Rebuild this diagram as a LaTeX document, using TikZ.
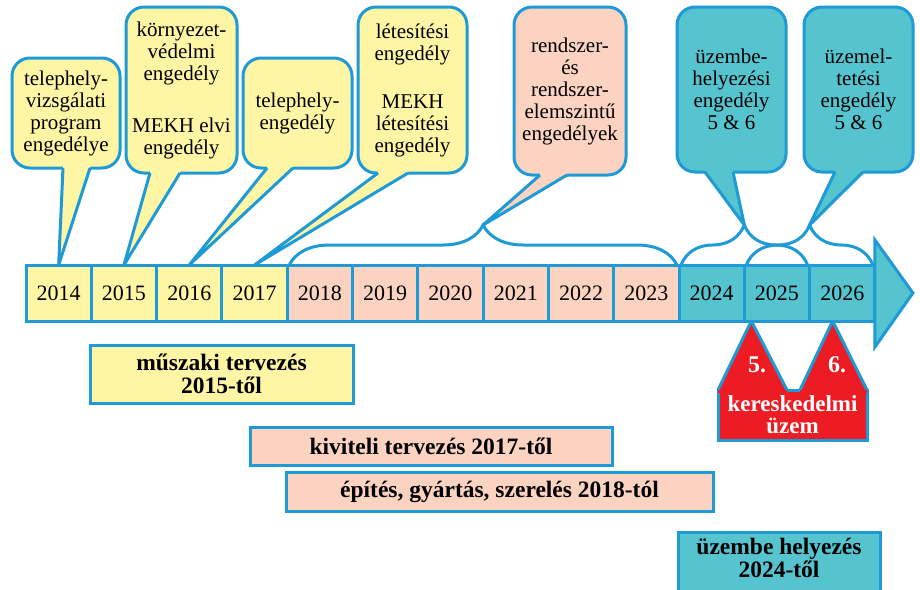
\documentclass[tikz,border=0pt]{standalone}
\usepackage{fontspec}
\setmainfont{Liberation Serif}
\usetikzlibrary{calc,decorations.pathreplacing}
\definecolor{lineblue}{HTML}{1E9AD6}
\definecolor{yelfill}{HTML}{FFF6A5}
\definecolor{pinkfill}{HTML}{FBD3C0}
\definecolor{tealfill}{HTML}{55C4CF}
\definecolor{redfill}{HTML}{ED1C24}
\newcommand{\bubbletail}[5]{%
  \fill[#2] ($(#1.south west)+(#3,-3)$) -- ($(#1.south west)+(#3,0)$) -- (#5)
    -- ($(#1.south west)+(#4,0)$) -- ($(#1.south west)+(#4,-3)$) -- cycle;
  \draw[tailline] ($(#1.south west)+(#3,0)$) -- (#5) -- ($(#1.south west)+(#4,0)$);
}
\begin{document}
\begin{tikzpicture}[x=1pt,y=-1pt,
  frame/.style={draw=lineblue,line width=3pt,outer sep=0pt,inner sep=0pt},
  tailline/.style={draw=lineblue,line width=3pt,line join=round},
  bubble/.style={frame,rounded corners=18pt,align=center,font=\fontsize{21}{22}\selectfont},
  yearbox/.style={frame,minimum width=65.3pt,minimum height=56pt,font=\fontsize{22}{22}\selectfont},
  phasebox/.style={frame,align=center,font=\bfseries\fontsize{23.5}{23}\selectfont},
  bracket/.style={draw=lineblue,line width=3pt,decorate,decoration={brace,amplitude=40pt}}]
\clip (0,0) rectangle (920,589);
\fill[white] (0,0) rectangle (920,589);
\foreach \yr/\col [count=\i from 0] in {2014/yelfill,2015/yelfill,2016/yelfill,2017/yelfill,
    2018/pinkfill,2019/pinkfill,2020/pinkfill,2021/pinkfill,2022/pinkfill,2023/pinkfill,
    2024/tealfill,2025/tealfill,2026/tealfill}
  \node[yearbox,fill=\col] (y\yr) at ({26+65.3*\i+32.65},293) {\yr};
\draw[frame,fill=tealfill,line join=miter] ($(y2026.east)+(0,-53)$) -- ($(y2026.east)+(38,0)$)
  -- ($(y2026.east)+(0,54)$) -- cycle;
\draw[bracket] ($(y2018.north west)+(2,0)$) -- ($(y2023.north east)+(-2,0)$);
\draw[bracket] ($(y2024.north west)+(2,0)$) -- ($(y2025.north east)+(-2,0)$);
\draw[bracket] ($(y2025.north west)+(2,0)$) -- ($(y2026.north east)+(-2,0)$);
\coordinate (b1) at ($(y2018.north west)!0.5!(y2023.north east)+(0,-40)$);
\coordinate (b2) at ($(y2024.north west)!0.5!(y2025.north east)+(0,-40)$);
\coordinate (b3) at ($(y2025.north west)!0.5!(y2026.north east)+(0,-40)$);
\node[bubble,fill=yelfill,minimum width=108pt,minimum height=110pt] (c1) at (66,113)
  {telephely-\\vizsgálati\\program\\engedélye};
\bubbletail{c1}{yelfill}{51}{78}{y2014.north}
\node[bubble,fill=yelfill,minimum width=111pt,minimum height=166pt] (c2) at (181.5,90)
  {környezet-\\védelmi\\engedély\\[30pt]MEKH elvi\\engedély};
\bubbletail{c2}{yelfill}{24}{54}{y2015.north}
\node[bubble,fill=yelfill,minimum width=109pt,minimum height=110pt] (c3) at (297.5,113)
  {telephely-\\engedély};
\bubbletail{c3}{yelfill}{24}{50}{y2016.north}
\node[bubble,fill=yelfill,minimum width=109pt,minimum height=166pt] (c4) at (412.5,90)
  {létesítési\\engedély\\[26pt]MEKH\\létesítési\\engedély};
\bubbletail{c4}{yelfill}{20}{50}{y2017.north}
\node[bubble,fill=pinkfill,minimum width=112pt,minimum height=168pt] (c5) at (570,91)
  {rendszer-\\és\\rendszer-\\elemszintű\\engedélyek};
\bubbletail{c5}{pinkfill}{26}{53}{b1}
\node[bubble,fill=tealfill,minimum width=109pt,minimum height=165pt] (c6) at (731.5,89.5)
  {üzembe-\\helyezési\\engedély\\5 \& 6};
\bubbletail{c6}{tealfill}{28}{56}{b2}
\node[bubble,fill=tealfill,minimum width=109pt,minimum height=165pt] (c7) at (858.5,89.5)
  {üzemel-\\tetési\\engedély\\5 \& 6};
\bubbletail{c7}{tealfill}{31}{59}{b3}
\node[frame,fill=redfill,minimum width=149pt,minimum height=50pt,align=center,text=white,
  font=\bfseries\fontsize{23}{22}\selectfont] (ker) at (792.5,415) {kereskedelmi\\üzem};
\coordinate (t5) at ($(y2025.south west)+(7,0)$);
\coordinate (t6) at ($(y2026.south west)+(23,0)$);
\fill[redfill] ($(ker.north west)+(0,3)$) -- (ker.north west) -- (t5) -- ($(ker.north west)+(69,0)$)
  -- ($(ker.north west)+(69,3)$) -- cycle;
\draw[tailline] (ker.north west) -- (t5) -- ($(ker.north west)+(69,0)$);
\fill[redfill] ($(ker.north west)+(82,3)$) -- ($(ker.north west)+(82,0)$) -- (t6) -- (ker.north east)
  -- ($(ker.north east)+(0,3)$) -- cycle;
\draw[tailline] ($(ker.north west)+(82,0)$) -- (t6) -- (ker.north east);
\node[text=white,font=\bfseries\fontsize{24}{24}\selectfont] (n5) at (757,365) {5.};
\node[text=white,font=\bfseries\fontsize{24}{24}\selectfont] (n6) at (837,365) {6.};
\node[phasebox,fill=yelfill,minimum width=263pt,minimum height=58pt] (mt) at (221.5,374)
  {műszaki tervezés\\2015-től};
\node[phasebox,fill=pinkfill,minimum width=362pt,minimum height=38pt] (kt) at (431,446)
  {kiviteli tervezés 2017-től};
\node[phasebox,fill=pinkfill,minimum width=427pt,minimum height=39pt] (ep) at (499.5,491.5)
  {építés, gyártás, szerelés 2018-tól};
\node[phasebox,fill=tealfill,minimum width=202pt,minimum height=88pt] (uh) at (779,576)
  {üzembe helyezés\\2024-től\\[14pt]\mbox{}};
\end{tikzpicture}
\end{document}
